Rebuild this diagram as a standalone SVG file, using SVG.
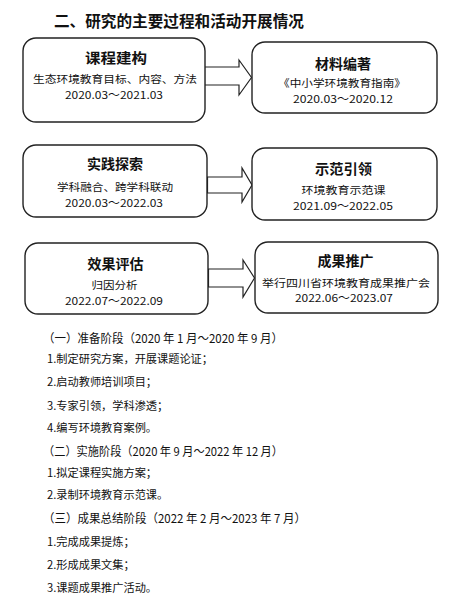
<svg xmlns="http://www.w3.org/2000/svg" width="457" height="600" viewBox="0 0 457 600">
<style>
text{font-family:"Noto Sans CJK SC","Noto Sans",sans-serif;fill:#111}
.title{font-size:15.5px;font-weight:bold}
.box{fill:#fff;stroke:#222;stroke-width:1.4}
.arrow{fill:#fff;stroke:#222;stroke-width:1.2;stroke-linejoin:miter}
.nt{font-size:14px;font-weight:bold;text-anchor:middle}
.ns{font-size:10.5px;text-anchor:middle}
.nd{font-size:11px;text-anchor:middle}
.h{font-size:12px}
.li{font-size:11.2px}
</style>
<rect width="457" height="600" fill="#fff"/>
<text class="title" x="54" y="27" textLength="250" lengthAdjust="spacingAndGlyphs">二、研究的主要过程和活动开展情况</text>

<g id="connectors">
<polygon class="arrow" points="204.5,67 239,67 239,60 251.5,77.5 239,95 239,85 204.5,85"/>
<polygon class="arrow" points="207.5,177 242,177 242,168 252,185 242,202 242,193 207.5,193"/>
<polygon class="arrow" points="208.5,269 243,269 243,260 254.5,278 243,297 243,287 208.5,287"/>
</g>

<g id="n1">
<rect class="box" x="23" y="38" width="182" height="84" rx="13"/>
<text class="nt" x="116" y="63" textLength="62" lengthAdjust="spacingAndGlyphs">课程建构</text>
<text class="ns" x="115" y="82.5" font-size="10" textLength="164" lengthAdjust="spacingAndGlyphs">生态环境教育目标、内容、方法</text>
<text class="nd" x="114" y="98.5" textLength="98" lengthAdjust="spacingAndGlyphs">2020.03～2021.03</text>
</g>
<g id="n2">
<rect class="box" x="252" y="42" width="185" height="71" rx="13"/>
<text class="nt" x="343" y="68.5" textLength="56" lengthAdjust="spacingAndGlyphs">材料编著</text>
<text class="ns" x="342" y="87" textLength="128" lengthAdjust="spacingAndGlyphs">《中小学环境教育指南》</text>
<text class="nd" x="343" y="102.5" textLength="100" lengthAdjust="spacingAndGlyphs">2020.03～2020.12</text>
</g>
<g id="n3">
<rect class="box" x="23" y="145" width="184" height="72" rx="13"/>
<text class="nt" x="115" y="168.5" textLength="56" lengthAdjust="spacingAndGlyphs">实践探索</text>
<text class="ns" x="115" y="190.5" textLength="116" lengthAdjust="spacingAndGlyphs">学科融合、跨学科联动</text>
<text class="nd" x="114" y="206.5" textLength="98" lengthAdjust="spacingAndGlyphs">2020.03～2022.03</text>
</g>
<g id="n4">
<rect class="box" x="252" y="148" width="185" height="72" rx="13"/>
<text class="nt" x="343.5" y="173.5" textLength="57" lengthAdjust="spacingAndGlyphs">示范引领</text>
<text class="ns" x="343.5" y="193.5" textLength="84" lengthAdjust="spacingAndGlyphs">环境教育示范课</text>
<text class="nd" x="343" y="209.5" textLength="100" lengthAdjust="spacingAndGlyphs">2021.09～2022.05</text>
</g>
<g id="n5">
<rect class="box" x="25" y="243" width="183" height="71" rx="13"/>
<text class="nt" x="115.5" y="268.5" textLength="56" lengthAdjust="spacingAndGlyphs">效果评估</text>
<text class="ns" x="114.5" y="288.5" textLength="46" lengthAdjust="spacingAndGlyphs">归因分析</text>
<text class="nd" x="114" y="304.5" textLength="98" lengthAdjust="spacingAndGlyphs">2022.07～2022.09</text>
</g>
<g id="n6">
<rect class="box" x="255" y="242" width="183" height="71" rx="13"/>
<text class="nt" x="345.5" y="265.5" textLength="56" lengthAdjust="spacingAndGlyphs">成果推广</text>
<text class="ns" x="346" y="286.5" textLength="168" lengthAdjust="spacingAndGlyphs">举行四川省环境教育成果推广会</text>
<text class="nd" x="344" y="301.5" textLength="98" lengthAdjust="spacingAndGlyphs">2022.06～2023.07</text>
</g>

<g id="list">
<text class="h" x="43" y="342.5" textLength="240" lengthAdjust="spacingAndGlyphs">（一）准备阶段（2020 年 1 月～2020 年 9 月）</text>
<text class="li" x="47" y="363">1.制定研究方案，开展课题论证；</text>
<text class="li" x="47" y="386">2.启动教师培训项目；</text>
<text class="li" x="47" y="410">3.专家引领，学科渗透；</text>
<text class="li" x="47" y="432">4.编写环境教育案例。</text>
<text class="h" x="43" y="455.5" textLength="240" lengthAdjust="spacingAndGlyphs">（二）实施阶段（2020 年 9 月～2022 年 12 月）</text>
<text class="li" x="47" y="477">1.拟定课程实施方案；</text>
<text class="li" x="47" y="499">2.录制环境教育示范课。</text>
<text class="h" x="43" y="522.5" textLength="263" lengthAdjust="spacingAndGlyphs">（三）成果总结阶段（2022 年 2 月～2023 年 7 月）</text>
<text class="li" x="47" y="546">1.完成成果提炼；</text>
<text class="li" x="47" y="569">2.形成成果文集；</text>
<text class="li" x="47" y="592">3.课题成果推广活动。</text>
</g>
</svg>
